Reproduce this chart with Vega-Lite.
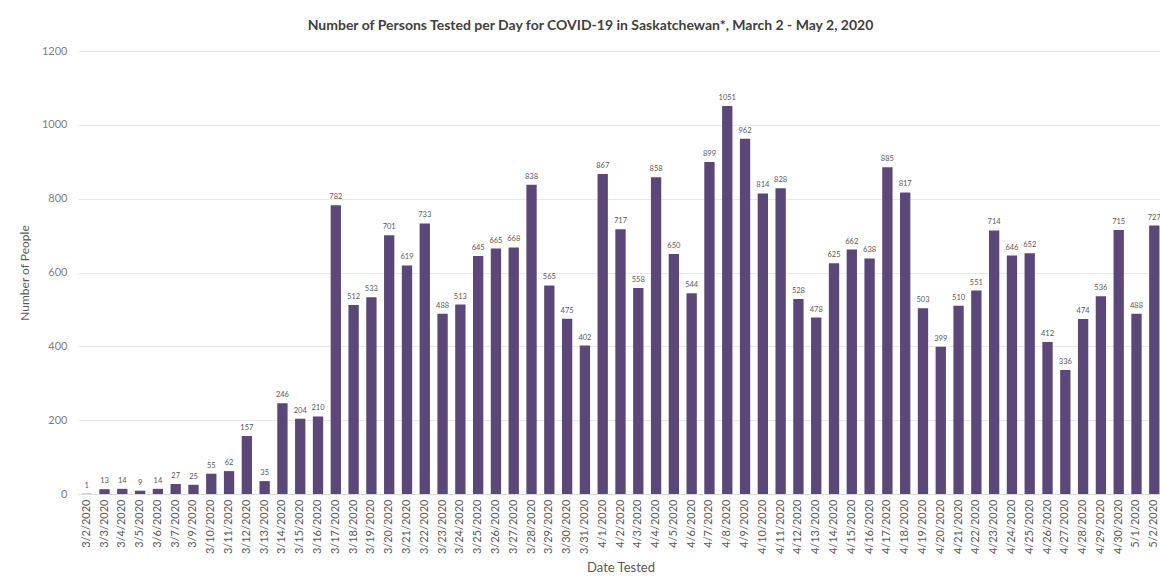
{
  "$schema": "https://vega.github.io/schema/vega-lite/v6.json",
  "autosize": {"type": "none"},
  "padding": {"left": 78, "top": 51, "right": 0, "bottom": 94},
  "width": 1085,
  "height": 443,
  "background": "white",
  "config": {"font": "Lato", "view": {"stroke": null}},
  "title": {
    "text": "Number of Persons Tested per Day for COVID-19 in Saskatchewan*, March 2 - May 2, 2020",
    "fontSize": 14,
    "fontWeight": "bold",
    "color": "#404040",
    "anchor": "middle",
    "dx": -30,
    "offset": 12
  },
  "data": {
    "values": [
      {"date": "3/2/2020", "people": 1},
      {"date": "3/3/2020", "people": 13},
      {"date": "3/4/2020", "people": 14},
      {"date": "3/5/2020", "people": 9},
      {"date": "3/6/2020", "people": 14},
      {"date": "3/7/2020", "people": 27},
      {"date": "3/9/2020", "people": 25},
      {"date": "3/10/2020", "people": 55},
      {"date": "3/11/2020", "people": 62},
      {"date": "3/12/2020", "people": 157},
      {"date": "3/13/2020", "people": 35},
      {"date": "3/14/2020", "people": 246},
      {"date": "3/15/2020", "people": 204},
      {"date": "3/16/2020", "people": 210},
      {"date": "3/17/2020", "people": 782},
      {"date": "3/18/2020", "people": 512},
      {"date": "3/19/2020", "people": 533},
      {"date": "3/20/2020", "people": 701},
      {"date": "3/21/2020", "people": 619},
      {"date": "3/22/2020", "people": 733},
      {"date": "3/23/2020", "people": 488},
      {"date": "3/24/2020", "people": 513},
      {"date": "3/25/2020", "people": 645},
      {"date": "3/26/2020", "people": 665},
      {"date": "3/27/2020", "people": 668},
      {"date": "3/28/2020", "people": 838},
      {"date": "3/29/2020", "people": 565},
      {"date": "3/30/2020", "people": 475},
      {"date": "3/31/2020", "people": 402},
      {"date": "4/1/2020", "people": 867},
      {"date": "4/2/2020", "people": 717},
      {"date": "4/3/2020", "people": 558},
      {"date": "4/4/2020", "people": 858},
      {"date": "4/5/2020", "people": 650},
      {"date": "4/6/2020", "people": 544},
      {"date": "4/7/2020", "people": 899},
      {"date": "4/8/2020", "people": 1051},
      {"date": "4/9/2020", "people": 962},
      {"date": "4/10/2020", "people": 814},
      {"date": "4/11/2020", "people": 828},
      {"date": "4/12/2020", "people": 528},
      {"date": "4/13/2020", "people": 478},
      {"date": "4/14/2020", "people": 625},
      {"date": "4/15/2020", "people": 662},
      {"date": "4/16/2020", "people": 638},
      {"date": "4/17/2020", "people": 885},
      {"date": "4/18/2020", "people": 817},
      {"date": "4/19/2020", "people": 503},
      {"date": "4/20/2020", "people": 399},
      {"date": "4/21/2020", "people": 510},
      {"date": "4/22/2020", "people": 551},
      {"date": "4/23/2020", "people": 714},
      {"date": "4/24/2020", "people": 646},
      {"date": "4/25/2020", "people": 652},
      {"date": "4/26/2020", "people": 412},
      {"date": "4/27/2020", "people": 336},
      {"date": "4/28/2020", "people": 474},
      {"date": "4/29/2020", "people": 536},
      {"date": "4/30/2020", "people": 715},
      {"date": "5/1/2020", "people": 488},
      {"date": "5/2/2020", "people": 727}
    ]
  },
  "encoding": {
    "x": {
      "field": "date",
      "type": "nominal",
      "sort": null,
      "scale": {"paddingInner": 0.42, "paddingOuter": 0.2},
      "axis": {
        "title": "Date Tested",
        "titleFontSize": 13,
        "titleFontWeight": "normal",
        "titleColor": "#595959",
        "titlePadding": 8,
        "labelAngle": -90,
        "labelFontSize": 11,
        "labelColor": "#595959",
        "labelPadding": 5,
        "ticks": false,
        "domainColor": "#d9d9d9",
        "labelOverlap": false
      }
    },
    "y": {
      "field": "people",
      "type": "quantitative",
      "scale": {"domain": [0, 1200]},
      "axis": {
        "title": "Number of People",
        "titleFontSize": 12,
        "titleFontWeight": "normal",
        "titleColor": "#595959",
        "titlePadding": 10,
        "format": "d",
        "values": [0, 200, 400, 600, 800, 1000, 1200],
        "labelFontSize": 11,
        "labelColor": "#7f7f7f",
        "labelPadding": 11,
        "ticks": false,
        "domain": false,
        "gridColor": "#e8e8e8"
      }
    }
  },
  "layer": [
    {"mark": {"type": "bar", "color": "#5b4778"}},
    {
      "mark": {"type": "text", "dy": -8, "fontSize": 7.5, "color": "#595959"},
      "encoding": {"text": {"field": "people", "type": "quantitative"}}
    }
  ]
}
